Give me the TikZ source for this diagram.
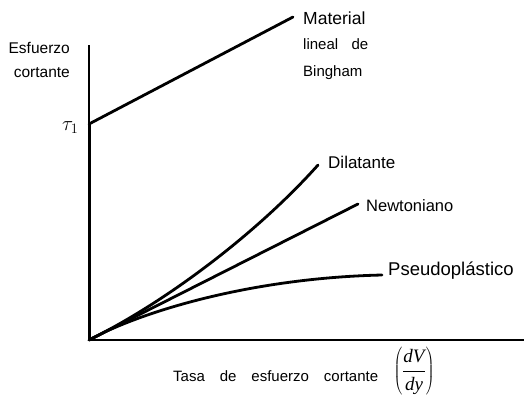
\documentclass[tikz,border=0pt]{standalone}
\usepackage{fontspec}
\setmainfont{Liberation Sans}
\newfontfamily\tms{Liberation Serif}
\newcommand{\fsz}[1]{\fontsize{#1bp}{#1bp}\selectfont}
\begin{document}
\begin{tikzpicture}[x=1bp,y=-1bp,
  curve/.style={line width=2.8bp, line cap=round},
  axisline/.style={line width=1.6bp},
  lbl/.style={inner sep=0pt, anchor=base west},
  ylbl/.style={inner sep=0pt, anchor=base east, font=\fsz{15.5}}]
\useasboundingbox (0,0) rectangle (524,398);
% key points
\coordinate (ytop) at (89,45);
\coordinate (tau) at (89,124);
\coordinate (O) at (89,340);
\coordinate (xend) at (524,340);
\coordinate (bing) at (293,17);
\coordinate (dil) at (318,165);
\coordinate (newt) at (358,204);
\coordinate (pseu) at (382,275);
% axes
\draw[axisline] (ytop) -- (tau);
\draw[line width=3bp] (tau) -- (O);
\draw[axisline] (O) -- (xend);
% curves
\draw[curve] (tau) -- (bing);
\draw[curve] (O) -- (newt);
\draw[curve] (O) .. controls (170,300) and (260,230) .. (dil);
\draw[curve] (O) .. controls (140,312) and (250,278) .. (pseu);
% labels
\node[ylbl] (esf) at (70,53) {Esfuerzo};
\node[ylbl] (cor) at (70,77) {cortante};
\node[lbl, font=\fsz{19}] (tau1) at (62,130) {$\tau_1$};
\node[lbl, font=\fsz{17.5}] (mat) at (303,24) {Material};
\node[lbl, font=\fsz{15}] (lin) at (303,49) {\makebox[65bp][s]{lineal\hfill de}};
\node[lbl, font=\fsz{15}] (bin) at (303,76) {Bingham};
\node[lbl, font=\fsz{17}] (dlab) at (328,168) {Dilatante};
\node[lbl, font=\fsz{16.5}] (nlab) at (366,211) {Newtoniano};
\node[lbl, font=\fsz{18.5}] (plab) at (388,275) {Pseudoplástico};
\node[lbl, font=\fsz{15}] (xl) at (173,381) {\makebox[205bp][s]{Tasa\hfill de\hfill esfuerzo\hfill cortante}};
\node[inner sep=0pt, font=\fsz{19}] (frac) at (414,371) {$\displaystyle\left(\frac{\mbox{\tms\itshape dV}}{\mbox{\tms\itshape dy}}\right)$};
\end{tikzpicture}
\end{document}
